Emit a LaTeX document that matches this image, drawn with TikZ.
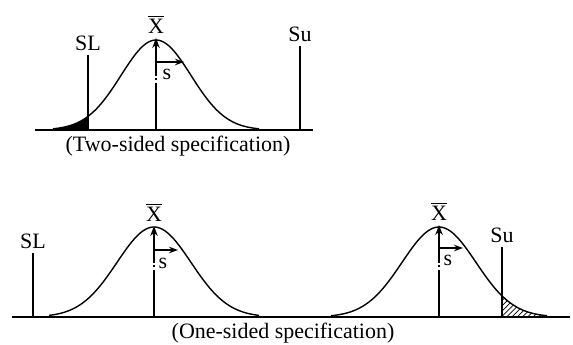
\documentclass[tikz,border=0pt]{standalone}
\usepackage{fontspec}
\setmainfont{Liberation Serif}
\usetikzlibrary{positioning,arrows.meta,patterns}

\begin{document}
\begin{tikzpicture}[
  x=0.02cm, y=-0.02cm,
  declare function={bell(\t,\s)=90*exp(-(\t/\s)^2/2);},
  every node/.style={font=\fontsize{12.5}{14}\selectfont, inner sep=1pt},
  base/.style={thick},
  curve/.style={thick, line join=round},
  speclim/.style={thick},
  centre/.style={thick, -{Stealth[length=2mm,width=1.5mm]},
                 dash pattern=on 27pt off 1.5pt on 1pt off 1.5pt},
  sarrow/.style={thick, -{Stealth[length=1.8mm,width=1.3mm]}}
]
  \useasboundingbox (0,0) rectangle (573,344);
  % two-sided
  \coordinate (t0) at (35,130);
  \coordinate (t1) at (313,130);
  \draw[base] (t0) -- (t1);
  \fill (53,130) -- plot[domain=-103:-68, samples=20] ({156+\x},{130-bell(\x,35)}) -- (88,130) -- cycle;
  \draw[curve] plot[domain=-103:103, samples=90] ({156+\x},{130-bell(\x,35)});
  \coordinate (tmb) at (156,130);
  \coordinate (tmt) at (156,38);
  \draw[centre] (tmb) -- (tmt);
  \node[above=1.5pt of tmt] (tX) {$\overline{\mbox{X}}$};
  \coordinate (ts0) at (156,62);
  \coordinate (ts1) at (184,62);
  \draw[sarrow] (ts0) -- (ts1);
  \node (ts) at (167,74) {s};
  \coordinate (tLb) at (88,130);
  \coordinate (tLt) at (88,55);
  \draw[speclim] (tLb) -- (tLt);
  \node[above=1pt of tLt] (tSL) {SL};
  \coordinate (tUb) at (300,130);
  \coordinate (tUt) at (300,46);
  \draw[speclim] (tUb) -- (tUt);
  \node[above=1pt of tUt] (tSu) {Su};
  \node (tcap) at (178,146) {(Two-sided specification)};
  % one-sided
  \coordinate (b0) at (12,317);
  \coordinate (b1) at (570,317);
  \draw[base] (b0) -- (b1);
  \draw[curve] plot[domain=-105:105, samples=90] ({154+\x},{317-bell(\x,37)});
  \fill[pattern=north east lines] (502,317) -- plot[domain=63:108, samples=20] ({439+\x},{317-bell(\x,37)}) -- cycle;
  \draw[curve] plot[domain=-108:108, samples=90] ({439+\x},{317-bell(\x,37)});
  \coordinate (lmb) at (154,317);
  \coordinate (lmt) at (154,226);
  \draw[centre] (lmb) -- (lmt);
  \node[above=1.5pt of lmt] (lX) {$\overline{\mbox{X}}$};
  \coordinate (ls0) at (154,250);
  \coordinate (ls1) at (178,250);
  \draw[sarrow] (ls0) -- (ls1);
  \node (ls) at (163,263) {s};
  \coordinate (rmb) at (439,317);
  \coordinate (rmt) at (439,225);
  \draw[centre] (rmb) -- (rmt);
  \node[above=1.5pt of rmt] (rX) {$\overline{\mbox{X}}$};
  \coordinate (rs0) at (439,248);
  \coordinate (rs1) at (463,248);
  \draw[sarrow] (rs0) -- (rs1);
  \node (rs) at (448,260) {s};
  \coordinate (bLb) at (33,317);
  \coordinate (bLt) at (33,253);
  \draw[speclim] (bLb) -- (bLt);
  \node[above=1pt of bLt] (bSL) {SL};
  \coordinate (bUb) at (502,317);
  \coordinate (bUt) at (502,247);
  \draw[speclim] (bUb) -- (bUt);
  \node[above=1pt of bUt] (bSu) {Su};
  \node (bcap) at (283,333) {(One-sided specification)};
\end{tikzpicture}
\end{document}
